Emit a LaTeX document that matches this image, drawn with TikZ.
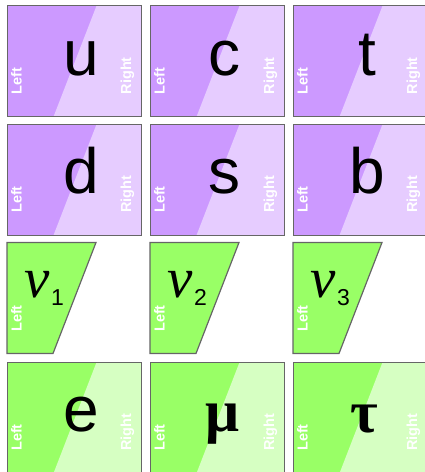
\documentclass[tikz,border=0pt]{standalone}
\usepackage{fontspec}
\setmainfont{Liberation Sans}
\newfontfamily\greekfont{Liberation Serif}
\usepackage{tikz}
\usetikzlibrary{calc}
\definecolor{quarkdark}{HTML}{CC99FF}
\definecolor{quarklight}{HTML}{E6CCFF}
\definecolor{leptondark}{HTML}{99FF66}
\definecolor{leptonlight}{HTML}{D6FFC2}
\definecolor{cellborder}{HTML}{666666}
\tikzstyle{cell} = [rectangle, anchor=north west, minimum width=134pt, minimum height=111pt, inner sep=0pt, draw=cellborder, line width=1.2pt]
\tikzstyle{flavour} = [anchor=base, font=\fontsize{64}{64}\selectfont]
\tikzstyle{greek} = [anchor=base, font=\greekfont\bfseries\fontsize{60}{60}\selectfont]
\tikzstyle{hand} = [rotate=90, anchor=base west, inner sep=0pt, text=white, font=\bfseries\fontsize{14.5}{14.5}\selectfont]

\begin{document}
\begin{tikzpicture}[
    x=1pt, y=-1pt,
    halves/.style={path picture={\fill[#1]
      ($(path picture bounding box.north west)!0.664!(path picture bounding box.north east)$)
      -- (path picture bounding box.north east) -- (path picture bounding box.south east)
      -- ($(path picture bounding box.south west)!0.343!(path picture bounding box.south east)$) -- cycle;}},
    quark/.style={cell, fill=quarkdark, halves=quarklight},
    lepton/.style={cell, fill=leptondark, halves=leptonlight},
    nuleft/.style={fill=leptondark, draw=cellborder, line width=1.2pt},
    neutrino/.style={anchor=base west, inner sep=0pt, font=\greekfont\itshape\fontsize{57}{57}\selectfont},
    gen/.style={anchor=base west, inner sep=0pt, font=\fontsize{23}{23}\selectfont}
  ]
    \useasboundingbox (0,0) rectangle (424,472);

    % Row 1: up-type quarks
    \node[quark] (ucell) at (7,5) {};
    \node[quark] (ccell) at (150,5) {};
    \node[quark] (tcell) at (293,5) {};
    \node[flavour] (u) at (81,75) {u};
    \node[flavour] (c) at (224,75) {c};
    \node[flavour] (t) at (367,75) {t};
    \node[hand] (uL) at (21.5,94.5) {Left};
    \node[hand] (uR) at (131,94.5) {Right};
    \node[hand] (cL) at (164.5,94.5) {Left};
    \node[hand] (cR) at (274,94.5) {Right};
    \node[hand] (tL) at (307.5,94.5) {Left};
    \node[hand] (tR) at (417,94.5) {Right};

    % Row 2: down-type quarks
    \node[quark] (dcell) at (7,123.5) {};
    \node[quark] (scell) at (150,123.5) {};
    \node[quark] (bcell) at (293,123.5) {};
    \node[flavour] (d) at (81,193.5) {d};
    \node[flavour] (s) at (224,193.5) {s};
    \node[flavour] (b) at (367,193.5) {b};
    \node[hand] (dL) at (21.5,213) {Left};
    \node[hand] (dR) at (131,213) {Right};
    \node[hand] (sL) at (164.5,213) {Left};
    \node[hand] (sR) at (274,213) {Right};
    \node[hand] (bL) at (307.5,213) {Left};
    \node[hand] (bR) at (417,213) {Right};

    % Row 3: neutrinos, left-handed only
    \draw[nuleft] (7,242.5) -- ++(89,0) -- ++(-43,111) -- ++(-46,0) -- cycle;
    \draw[nuleft] (150,242.5) -- ++(89,0) -- ++(-43,111) -- ++(-46,0) -- cycle;
    \draw[nuleft] (293,242.5) -- ++(89,0) -- ++(-43,111) -- ++(-46,0) -- cycle;
    \node[neutrino] (nu1) at (24,297) {ν};
    \node[neutrino] (nu2) at (167,297) {ν};
    \node[neutrino] (nu3) at (310,297) {ν};
    \node[gen] (g1) at (51,305) {1};
    \node[gen] (g2) at (194,305) {2};
    \node[gen] (g3) at (337,305) {3};
    \node[hand] (nu1L) at (21.5,332) {Left};
    \node[hand] (nu2L) at (164.5,332) {Left};
    \node[hand] (nu3L) at (307.5,332) {Left};

    % Row 4: charged leptons
    \node[lepton] (ecell) at (7,361.5) {};
    \node[lepton] (mucell) at (150,361.5) {};
    \node[lepton] (taucell) at (293,361.5) {};
    \node[flavour] (e) at (81,431.5) {e};
    \node[greek] (mu) at (222.5,431) {μ};
    \node[greek] (tau) at (364,432) {τ};
    \node[hand] (eL) at (21.5,451) {Left};
    \node[hand] (eR) at (131,451) {Right};
    \node[hand] (muL) at (164.5,451) {Left};
    \node[hand] (muR) at (274,451) {Right};
    \node[hand] (tauL) at (307.5,451) {Left};
    \node[hand] (tauR) at (417,451) {Right};
  \end{tikzpicture}
\end{document}
